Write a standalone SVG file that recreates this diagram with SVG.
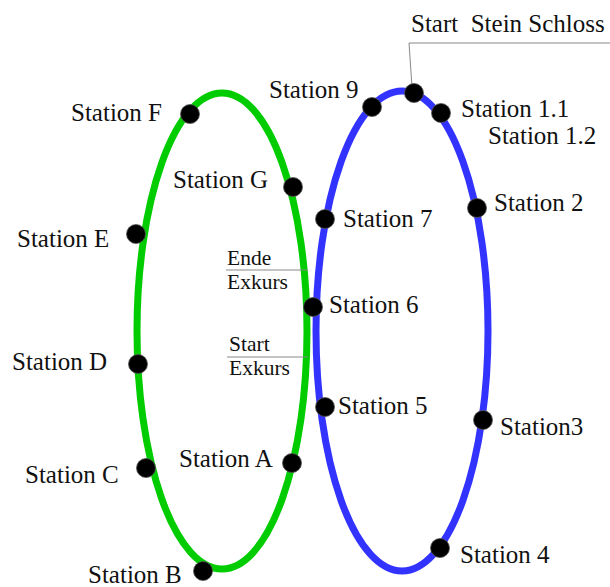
<svg xmlns="http://www.w3.org/2000/svg" width="610" height="587" viewBox="0 0 610 587">
<style>
.loop{fill:none;stroke-width:7}
.dot{fill:#000;stroke:#555;stroke-width:0.8}
text{font-family:'Liberation Serif','DejaVu Serif',serif;fill:#111}
.lbl{font-size:25px}
.sm{font-size:21.5px}
.lead{stroke:#888;stroke-width:1;fill:none}
</style>
<rect width="610" height="587" fill="#fff"/>
<g id="route-green"><ellipse class="loop" cx="222" cy="331" rx="85" ry="238" stroke="#00CC00"/></g>
<g id="route-blue"><ellipse class="loop" cx="402" cy="331" rx="86" ry="240" stroke="#3333FF"/></g>
<g id="connectors">
<polyline class="lead" points="610,43 409,43 412,87"/>
<line class="lead" x1="226" y1="270" x2="308" y2="270"/>
<line class="lead" x1="227" y1="357" x2="308" y2="357"/>
</g>
<g font-family="Liberation Serif, DejaVu Serif, serif">
<g id="start-stein-schloss"><circle class="dot" cx="414" cy="93" r="9.5"/><text class="lbl" x="411" y="32">Start&#160; Stein Schloss</text></g>
<g id="station-9"><circle class="dot" cx="372" cy="107" r="9.5"/><text class="lbl" x="269" y="98">Station 9</text></g>
<g id="station-1-1"><circle class="dot" cx="441" cy="113" r="9.5"/><text class="lbl" x="461" y="117">Station 1.1</text></g>
<g id="station-1-2"><text class="lbl" x="488" y="144">Station 1.2</text></g>
<g id="station-2"><circle class="dot" cx="477" cy="208" r="9.5"/><text class="lbl" x="494" y="211">Station 2</text></g>
<g id="station-3"><circle class="dot" cx="483" cy="420" r="9.5"/><text class="lbl" x="500" y="435">Station3</text></g>
<g id="station-4"><circle class="dot" cx="440" cy="548" r="9.5"/><text class="lbl" x="460" y="563">Station 4</text></g>
<g id="station-5"><circle class="dot" cx="325" cy="407" r="9.5"/><text class="lbl" x="338" y="414">Station 5</text></g>
<g id="station-6"><circle class="dot" cx="313" cy="307" r="9.5"/><text class="lbl" x="329" y="313">Station 6</text></g>
<g id="station-7"><circle class="dot" cx="325" cy="219" r="9.5"/><text class="lbl" x="343" y="227">Station 7</text></g>
<g id="station-f"><circle class="dot" cx="190" cy="114" r="9.5"/><text class="lbl" x="71" y="121">Station F</text></g>
<g id="station-g"><circle class="dot" cx="293" cy="187" r="9.5"/><text class="lbl" x="173" y="188">Station G</text></g>
<g id="station-e"><circle class="dot" cx="136" cy="234" r="9.5"/><text class="lbl" x="17" y="247">Station E</text></g>
<g id="station-d"><circle class="dot" cx="138" cy="364" r="9.5"/><text class="lbl" x="12" y="370">Station D</text></g>
<g id="station-c"><circle class="dot" cx="146" cy="468" r="9.5"/><text class="lbl" x="25" y="483">Station C</text></g>
<g id="station-a"><circle class="dot" cx="292" cy="463" r="9.5"/><text class="lbl" x="179" y="467">Station A</text></g>
<g id="station-b"><circle class="dot" cx="203" cy="571" r="9.5"/><text class="lbl" x="88" y="583">Station B</text></g>
<g id="ende-exkurs"><text class="sm" x="227" y="265">Ende</text><text class="sm" x="227" y="289">Exkurs</text></g>
<g id="start-exkurs"><text class="sm" x="229" y="351">Start</text><text class="sm" x="229" y="375">Exkurs</text></g>
</g>
</svg>
